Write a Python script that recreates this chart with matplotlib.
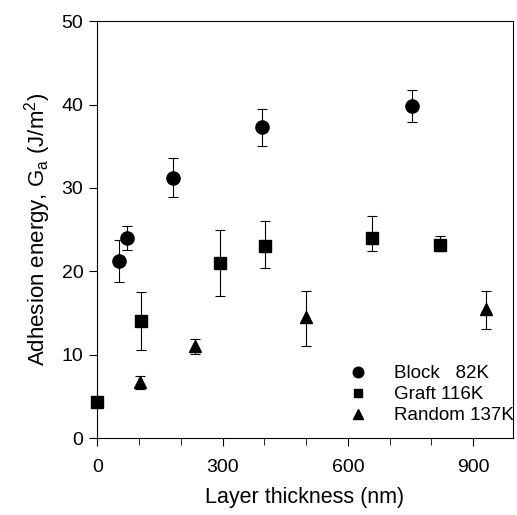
import matplotlib
matplotlib.use('Agg')
import matplotlib.pyplot as plt
from matplotlib.ticker import MultipleLocator

plt.rcParams['font.family'] = ['Liberation Sans', 'DejaVu Sans']

# Block 82K (круги)
block_x = [52, 72, 181, 394, 754]
block_y = [21.2, 24.0, 31.2, 37.3, 39.8]
block_lo = [18.7, 22.6, 28.9, 35.0, 37.9]
block_hi = [23.8, 25.5, 33.6, 39.5, 41.7]

# Graft 116K (квадраты)
graft_x = [0, 105, 294, 402, 659, 820]
graft_y = [4.4, 14.1, 21.0, 23.1, 24.0, 23.2]
graft_lo = [4.4, 10.6, 17.1, 20.4, 22.5, 22.4]
graft_hi = [4.4, 17.5, 25.0, 26.0, 26.6, 24.3]

# Random 137K (треугольники)
random_x = [102, 233, 501, 931]
random_y = [6.8, 11.0, 14.5, 15.5]
random_lo = [5.9, 10.1, 11.1, 13.1]
random_hi = [7.5, 11.9, 17.6, 17.6]

series = [
    ('Block   82K', block_x, block_y, block_lo, block_hi, 'o', 9.5),
    ('Graft 116K', graft_x, graft_y, graft_lo, graft_hi, 's', 8),
    ('Random 137K', random_x, random_y, random_lo, random_hi, '^', 9),
]

fig = plt.figure(figsize=(5.17, 5.15), dpi=100)
ax = fig.add_axes([0.188, 0.149, 0.804, 0.810])

for label, x, y, lo, hi, m, ms in series:
    yerr = [[v - l for v, l in zip(y, lo)], [h - v for v, h in zip(y, hi)]]
    ax.errorbar(x, y, yerr=yerr, fmt=m, color='black', markersize=ms,
                ecolor='black', elinewidth=0.8, capsize=3.6, capthick=0.8,
                label=label, clip_on=False, zorder=3)

ax.set_xlim(0, 995)
ax.set_ylim(0, 50)
ax.xaxis.set_major_locator(MultipleLocator(300))
ax.xaxis.set_minor_locator(MultipleLocator(100))
ax.yaxis.set_major_locator(MultipleLocator(10))
ax.tick_params(axis='both', which='both', direction='out', labelsize=14,
               top=False, right=False)
ax.tick_params(axis='x', which='major', length=6, pad=9)
ax.tick_params(axis='x', which='minor', length=5)
ax.tick_params(axis='y', which='major', length=6, pad=4)

ax.set_xlabel('Layer thickness (nm)', fontsize=15.5, labelpad=8)
ax.set_ylabel('Adhesion energy, G$_\\mathregular{a}$ (J/m$^\\mathregular{2}$)', fontsize=16,
              labelpad=6)

handles, labels = ax.get_legend_handles_labels()
handles = [h[0] for h in handles]
ax.legend(handles, labels, loc='lower right', bbox_to_anchor=(1.02, 0.016),
          frameon=False, fontsize=13.5, markerscale=0.8,
          handletextpad=1.3, labelspacing=0.2, borderaxespad=0,
          handlelength=1.2)

fig.savefig('out.png', dpi=100)
